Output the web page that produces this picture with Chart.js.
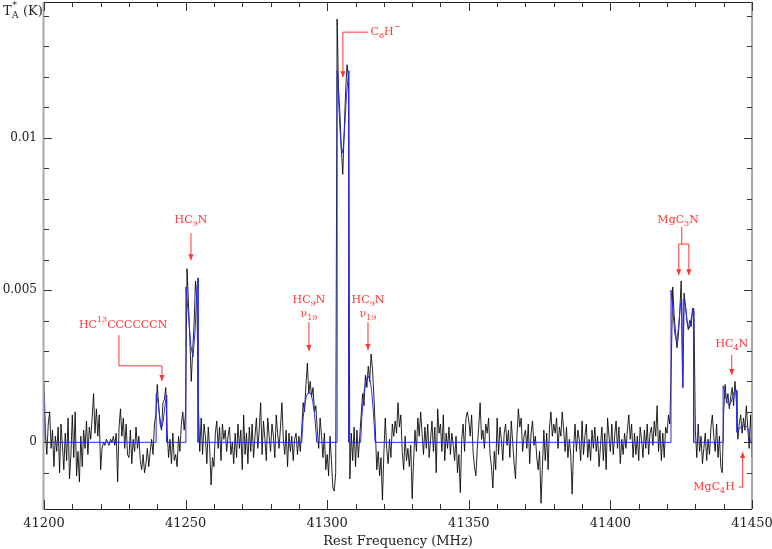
<!DOCTYPE html>
<html><head><meta charset="utf-8">
<script src="https://cdn.jsdelivr.net/npm/chart.js@4"></script>
<style>html,body{margin:0;padding:0;background:#fff}#wrap{width:772px;height:549px}</style>
</head><body><div id="wrap"><canvas id="c" width="772" height="549"></canvas></div>
<script>
// ---- data (temperatures in mK) ----
const FREQ_START = 41200;      // MHz, first channel
const CHANNEL_WIDTH = 0.5;     // MHz
const observed_mK = [
 2.0, 0.3,-0.4, 0.6, 1.0,-0.2, 0.4,-0.8, 0.2,-0.3, 0.5,-1.0, 0.6,-0.1,-0.9, 0.3,-0.6, 0.8,-1.2,-0.4,
 0.9,-0.5, 1.0,-1.1,-0.3,-1.3, 0.2,-0.8, 0.4,-0.2, 0.7,-0.4, 0.5, 0.1, 0.8, 1.6, 0.3, 1.1, 0.2, 0.9,
-0.9,-0.2, 0.0,-0.1, 0.1, 0.0,-0.1, 0.1, 0.0, 0.2,-0.1, 0.3,-1.3, 0.5, 1.1, 0.2, 0.8,-0.2, 0.6,-0.4,
-0.5, 0.4,-0.7, 0.1,-0.3, 0.5,-0.2, 0.2,-0.6,-0.9,-0.4,-1.0,-0.7,-0.2,-0.8,-0.3, 0.1,-0.4, 0.6, 0.9,
 1.9, 1.2, 0.6, 0.4, 1.3, 1.4, 1.8, 0.3,-0.5, 0.1,-0.7, 0.3,-0.6,-0.4,-0.8, 0.2,-0.3, 0.6, 1.0, 0.4,
 1.0, 5.7, 4.6, 3.4, 2.0, 3.0, 3.9, 5.3, 4.6, 1.2,-0.3, 0.8,-0.4, 0.6, 0.2,-0.7, 0.5,-0.2,-1.4,-0.5,
-0.8, 0.3, 0.7,-0.2, 0.5,-0.6, 0.6, 0.1, 0.4,-0.3, 0.2, 0.5,-0.4, 0.0,-0.7, 0.3,-0.5, 0.6,-0.2, 0.4,
-0.9, 0.9,-0.4, 0.3,-0.7, 0.5,-0.3, 0.6,-0.5, 0.2, 0.8,-0.2, 0.4, 1.3,-0.4, 0.7, 0.1,-0.6, 0.8, 0.2,
-0.3, 0.6, 0.2,-0.5, 0.9, 0.3,-0.2, 0.5, 1.3, 0.1,-0.4, 0.4,-0.8, 0.3,-0.3, 0.2,-0.6, 0.1, 0.3,-0.4,
 0.2,-0.3, 0.4, 1.3, 1.0, 1.9, 2.6, 1.6, 2.0, 1.5, 1.8, 1.0, 1.2, 0.4,-0.2, 0.8, 0.2,-0.5, 0.3,-0.9,
-0.4,-1.1, 0.2,-0.6,-1.5,-1.6,-1.0,13.9,11.6,10.8, 9.6, 8.8,10.2,11.5,12.4,12.0,-1.2, 0.3,-0.6, 0.5,
-0.8, 0.4,-0.5, 0.2, 0.9, 1.6, 1.2, 2.2, 1.8, 2.5, 2.0, 2.9, 2.4, 1.5, 0.4,-0.9,-0.3,-1.1,-0.5,-1.9,
-0.4, 0.8,-0.2,-0.7, 0.1,-0.5, 0.6, 0.2, 0.7, 0.3, 1.3, 0.5, 0.9,-0.3,-0.9, 0.2,-0.6,-0.2,-0.8,-0.1,
-1.85,-0.6,0.4,-0.3, 0.8, 0.2, 1.0, 0.3,-0.4, 0.5,-0.2, 0.6,-0.5, 0.1, 0.7,-0.3, 0.5,-1.0, 1.1, 0.3,
 0.6,-0.3, 0.9,-0.6, 0.3,-0.2, 0.5,-0.4, 0.3,-0.1,-0.6, 0.2,-1.0,-0.4,-1.65,0.1, 0.6,-0.3, 0.8, 1.0,
 0.7, 0.2, 0.9,-0.3,-0.8,-1.1,-0.2, 0.5, 1.3, 0.1, 0.4,-0.2, 0.6, 0.3, 0.8,-0.4,-0.8,-1.5,-0.3,-0.9,
 0.8,-0.4, 0.5, 0.1,-0.6, 0.3, 0.6,-0.1, 0.4,-0.5, 0.7, 0.0,-0.7,-1.2, 0.2, 1.1, 0.5, 0.8,-0.3, 0.2,
 0.4,-0.2, 0.6,-0.7, 0.3, 0.7,-0.1, 0.2,-0.5,-0.9,-0.3,-2.0,-0.8, 0.4,-0.6, 0.3,-0.9, 0.5, 1.0, 0.2,
 0.6, 0.3, 0.8,-0.2, 0.5, 0.2, 1.0, 0.4,-0.3, 0.5,-0.5, 0.1,-0.4,-1.7,-0.2, 0.6,-0.3, 0.4, 0.1,-0.6,
 0.7,-0.4, 0.2, 0.6,-0.5, 0.1,-0.6, 0.4,-0.2, 0.5,-0.3, 0.2,-0.8,-0.1, 0.5,-0.6, 0.3,-0.9, 0.8, 0.2,
-0.3, 0.6,-0.4, 0.2, 0.7,-0.2, 0.5,-0.7, 0.1,-0.4, 0.3,-0.2, 0.4, 0.9, 0.1, 0.6,-0.5, 0.3,-0.4, 0.2,
-0.6, 0.5, 0.1,-0.5, 0.4,-0.2, 0.6,-0.4, 0.3, 0.5,-0.1, 0.7, 0.2, 1.2,-0.3, 0.4,-0.6, 0.3,-0.5, 0.5,
 0.3, 0.9, 0.6, 2.6, 5.1, 4.2, 3.6, 3.1, 3.5, 4.3, 5.3, 1.8, 4.9, 4.5, 4.0, 3.7, 4.0, 3.8, 4.4, 4.3,
 0.4,-0.5, 0.6,-0.3, 0.2,-0.7,-0.2, 0.3,-0.6, 0.1,-0.4, 0.5, 0.9, 0.2,-0.3, 0.6,-0.5, 0.2,-0.8,-1.0,
 1.0, 1.9, 1.3, 1.6, 1.1, 1.5, 1.8, 1.2, 2.0, 1.3, 0.1, 0.6, 0.9, 0.3, 0.8, 0.4, 1.2, 0.5,-0.2, 0.9,
-0.5
];
const modelFreq = [
 41200, 41200.4,
 41239.6, 41239.6, 41240.3, 41240.9, 41241.5, 41242.1, 41242.7, 41243.3, 41243.3,
 41250.1, 41250.1, 41251.0, 41251.8, 41252.6, 41253.3, 41254.0, 41254.4, 41254.4,
 41291.0, 41291.5, 41292.0, 41292.6, 41293.2, 41293.7, 41294.3, 41294.9, 41295.5, 41296.0, 41296.3,
 41303.5, 41303.5, 41304.0, 41304.5, 41305.0, 41305.3, 41305.7, 41306.2, 41306.8, 41307.6, 41307.6,
 41311.8, 41312.2, 41312.7, 41313.3, 41313.9, 41314.5, 41315.1, 41315.7, 41316.3, 41316.7, 41316.9,
 41421.4, 41421.4, 41422.0, 41422.7, 41423.4, 41424.1, 41424.7, 41425.2, 41425.6, 41426.0, 41426.6, 41427.3, 41427.9, 41428.6, 41429.3, 41429.4,
 41439.8, 41439.8, 41440.5, 41441.3, 41442.0, 41442.7, 41443.5, 41444.2, 41444.6, 41444.7, 41445.5, 41446.5, 41447.5, 41448.4, 41449.0, 41449.5, 41450
];
const model_mK = [
 1.5, 0,
 0, 1.6, 1.3, 0.8, 0.45, 0.7, 1.2, 1.55, 0,
 0, 5.1, 4.2, 3.2, 2.8, 3.6, 5.0, 5.4, 0,
 0, 0.8, 1.2, 1.5, 1.62, 1.65, 1.58, 1.35, 0.95, 0.4, 0,
 0, 12.2, 11.3, 10.3, 9.6, 9.5, 9.7, 10.4, 11.4, 12.2, 0,
 0, 0.8, 1.4, 1.85, 2.1, 2.17, 2.05, 1.7, 1.0, 0.4, 0,
 0, 5.0, 4.4, 3.6, 3.3, 3.8, 4.5, 4.7, 1.8, 4.7, 4.4, 3.8, 3.75, 4.1, 4.4, 0,
 0, 1.85, 1.6, 1.3, 1.2, 1.35, 1.6, 1.75, 1.7, 0.33, 0.45, 0.53, 0.55, 0.5, 0.3, 0, 0
];
const xTickLabels = [41200, 41250, 41300, 41350, 41400, 41450];
const yTickLabels = [0, 0.005, 0.01];

// ---- build library datasets ----
const obsPoints = observed_mK.map((v, i) => ({x: FREQ_START + i * CHANNEL_WIDTH, y: v / 1000}));
const modelPoints = model_mK.map((v, i) => ({x: modelFreq[i], y: v / 1000}));

const SERIF = '"DejaVu Serif", "Liberation Serif", serif';
const RED = '#ff3535';

function drawRich(ctx, parts, x, y, align, size) {
  const big = size + 'px ' + SERIF, small = Math.round(size * 0.72) + 'px ' + SERIF;
  let w = 0;
  for (const [t, k] of parts) { ctx.font = k ? small : big; w += ctx.measureText(t).width; }
  let cx = align === 'center' ? x - w / 2 : align === 'right' ? x - w : x;
  ctx.textAlign = 'left'; ctx.textBaseline = 'middle';
  for (const [t, k] of parts) {
    ctx.font = k ? small : big;
    const dy = k === 1 ? size * 0.38 : k === 2 ? -size * 0.45 : 0;
    ctx.fillText(t, cx, y + dy);
    cx += ctx.measureText(t).width;
  }
}
function arrowHead(ctx, x, y, dir) { // dir 1 = pointing down, -1 = up
  ctx.beginPath();
  ctx.moveTo(x, y);
  ctx.lineTo(x - 2.6, y - 6 * dir);
  ctx.lineTo(x + 2.6, y - 6 * dir);
  ctx.closePath(); ctx.fill();
}
function poly(ctx, pts) {
  ctx.beginPath();
  pts.forEach((p, i) => i ? ctx.lineTo(p[0], p[1]) : ctx.moveTo(p[0], p[1]));
  ctx.stroke();
}

const decor = {
  id: 'decor',
  afterDraw(chart) {
    const {ctx, chartArea: a, scales: {x: xs, y: ys}} = chart;
    const X = f => xs.getPixelForValue(f);
    const Y = mK => ys.getPixelForValue(mK / 1000);
    ctx.save();
    // frame
    ctx.lineWidth = 1; ctx.strokeStyle = '#222';
    poly(ctx, [[a.left, a.top + 0.5], [a.right, a.top + 0.5]]);
    poly(ctx, [[a.left, a.bottom + 0.5], [a.right, a.bottom + 0.5]]);
    ctx.strokeStyle = '#888'; ctx.lineWidth = 1.5;
    poly(ctx, [[a.right, a.top], [a.right, a.bottom]]);
    ctx.strokeStyle = '#a8a8a8'; ctx.lineWidth = 2;
    poly(ctx, [[a.left - 0.5, a.top], [a.left - 0.5, a.bottom + 1]]);
    // inward ticks
    ctx.strokeStyle = '#333'; ctx.lineWidth = 1;
    xs.ticks.forEach(t => {
      const v = t.value; if (Math.abs(v / 10 - Math.round(v / 10)) > 1e-6) return;
      const major = Math.abs(v / 50 - Math.round(v / 50)) < 1e-6;
      const px = Math.round(X(v)) + 0.5, L = major ? 9 : 5;
      poly(ctx, [[px, a.bottom], [px, a.bottom - L]]);
      poly(ctx, [[px, a.top], [px, a.top + L]]);
    });
    ys.ticks.forEach(t => {
      const v = t.value * 1000; if (Math.abs(v - Math.round(v)) > 1e-6) return;
      const major = Math.abs(v / 5 - Math.round(v / 5)) < 1e-6;
      const py = Math.round(Y(v)) + 0.5, L = major ? 8 : 5;
      poly(ctx, [[a.left, py], [a.left + L, py]]);
      poly(ctx, [[a.right, py], [a.right - L, py]]);
    });
    // y-axis label
    ctx.fillStyle = '#222';
    drawRich(ctx, [['T', 0]], 3, 12, 'left', 13);
    ctx.font = '9px ' + SERIF; ctx.textBaseline = 'middle';
    ctx.fillText('*', 12.5, 6);
    ctx.fillText('A', 12, 16);
    ctx.font = '13px ' + SERIF; ctx.fillText('(K)', 23, 12);

    // annotations
    ctx.fillStyle = RED; ctx.strokeStyle = RED; ctx.lineWidth = 1;
    const S = 11;
    // C6H-
    poly(ctx, [[X(41314.4), Y(13.47)], [X(41305.55), Y(13.47)], [X(41305.55), Y(11.99)]]);
    arrowHead(ctx, X(41305.55), Y(11.99), 1);
    drawRich(ctx, [['C', 0], ['6', 1], ['H', 0], ['\u2212', 2]], X(41315.3), Y(13.47), 'left', S);
    // HC9N
    drawRich(ctx, [['HC', 0], ['9', 1], ['N', 0]], X(41251.9), Y(7.30), 'center', S);
    poly(ctx, [[X(41251.9), Y(6.87)], [X(41251.9), Y(5.98)]]);
    arrowHead(ctx, X(41251.9), Y(5.98), 1);
    // HC13CCCCCCN
    drawRich(ctx, [['HC', 0], ['13', 2], ['CCCCCCN', 0]], X(41212.35), Y(3.85), 'left', S);
    poly(ctx, [[X(41226.47), Y(3.52)], [X(41226.47), Y(2.51)], [X(41241.65), Y(2.51)], [X(41241.65), Y(2.01)]]);
    arrowHead(ctx, X(41241.65), Y(2.01), 1);
    // HC9N v19 (two)
    [[41293.55, 3.0], [41314.4, 3.03]].forEach(([f, tip]) => {
      drawRich(ctx, [['HC', 0], ['9', 1], ['N', 0]], X(f), Y(4.67), 'center', S);
      drawRich(ctx, [['\u03BD', 0], ['19', 1]], X(f), Y(4.22), 'center', S);
      poly(ctx, [[X(f), Y(3.95)], [X(f), Y(tip)]]);
      arrowHead(ctx, X(f), Y(tip), 1);
    });
    // MgC3N
    drawRich(ctx, [['MgC', 0], ['3', 1], ['N', 0]], X(41423.9), Y(7.30), 'center', S);
    poly(ctx, [[X(41425.2), Y(7.07)], [X(41425.2), Y(6.51)]]);
    poly(ctx, [[X(41424.15), Y(5.49)], [X(41424.15), Y(6.51)], [X(41427.7), Y(6.51)], [X(41427.7), Y(5.49)]]);
    arrowHead(ctx, X(41424.15), Y(5.49), 1);
    arrowHead(ctx, X(41427.7), Y(5.49), 1);
    // HC4N
    drawRich(ctx, [['HC', 0], ['4', 1], ['N', 0]], X(41442.85), Y(3.23), 'center', S);
    poly(ctx, [[X(41442.85), Y(2.87)], [X(41442.85), Y(2.21)]]);
    arrowHead(ctx, X(41442.85), Y(2.21), 1);
    // MgC4H
    drawRich(ctx, [['MgC', 0], ['4', 1], ['H', 0]], X(41443.9), Y(-1.47), 'right', S);
    poly(ctx, [[X(41445.3), Y(-1.47)], [X(41446.7), Y(-1.47)], [X(41446.7), Y(-0.32)]]);
    arrowHead(ctx, X(41446.7), Y(-0.32), -1);
    ctx.restore();
  }
};

new Chart(document.getElementById('c'), {
  type: 'line',
  data: {
    datasets: [
      { label: 'model', data: modelPoints, borderColor: '#2a2ae6', borderWidth: 1, pointRadius: 0, tension: 0, order: 0 },
      { label: 'observed', data: obsPoints, borderColor: 'rgba(0,0,0,0.85)', borderWidth: 1, pointRadius: 0, tension: 0, order: 1 }
    ]
  },
  options: {
    responsive: false, animation: false, devicePixelRatio: 1,
    layout: { padding: { top: 2, right: 20, left: 0, bottom: 0 } },
    plugins: { legend: { display: false }, tooltip: { enabled: false } },
    scales: {
      x: {
        type: 'linear', min: 41200, max: 41450,
        grid: { display: false, drawTicks: false }, border: { display: false },
        ticks: {
          stepSize: 10, autoSkip: false, maxRotation: 0, padding: 7, color: '#222',
          font: { family: SERIF, size: 13 },
          callback: v => { const m = xTickLabels.find(t => Math.abs(t - v) < 1e-6); return m === undefined ? '' : String(m); }
        },
        title: { display: true, text: 'Rest Frequency (MHz)', color: '#222', font: { family: SERIF, size: 13 }, padding: { top: 0, bottom: 0 } },
        afterFit: s => { s.height = 40; s.paddingLeft = 0; s.paddingRight = 0; }
      },
      y: {
        type: 'linear', min: -0.00219, max: 0.01446,
        grid: { display: false, drawTicks: false }, border: { display: false },
        ticks: {
          stepSize: 0.001, autoSkip: false, padding: 7, color: '#222',
          font: { family: SERIF, size: 12 },
          callback: v => { const m = yTickLabels.find(t => Math.abs(t - v) < 1e-7); return m === undefined ? '' : String(m); }
        },
        afterFit: s => { s.width = 44; s.paddingTop = 0; s.paddingBottom = 0; }
      }
    }
  },
  plugins: [decor]
});
</script></body></html>
